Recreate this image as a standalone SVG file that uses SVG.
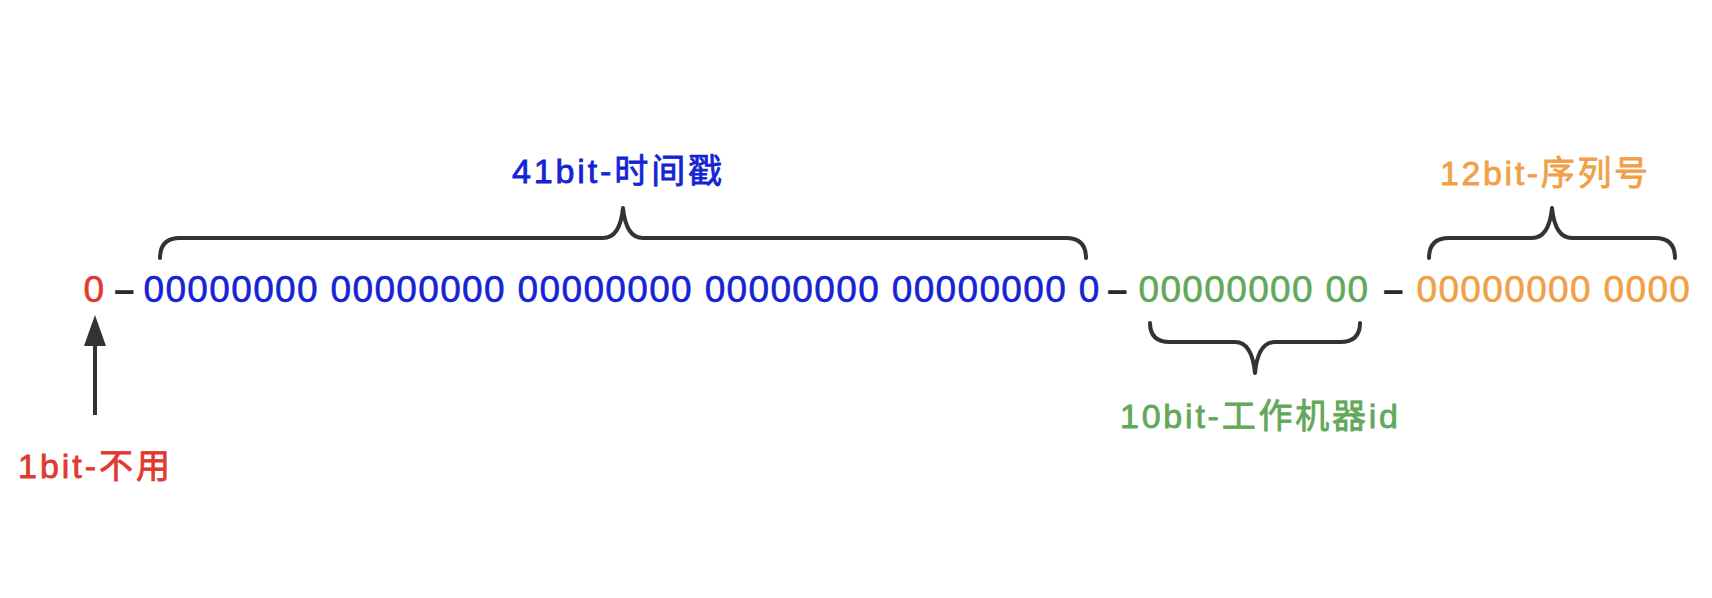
<svg xmlns="http://www.w3.org/2000/svg" width="1712" height="598" viewBox="0 0 1712 598">
<style>
.row{font-family:"Liberation Sans","Noto Sans CJK SC",sans-serif;font-size:37px;letter-spacing:1.35px;stroke-width:0.6px}
.lbl{font-family:"Liberation Sans","Noto Sans CJK SC",sans-serif;font-size:34px;stroke-width:0.8px}
.dash{font-family:"Liberation Sans",sans-serif;font-size:37px;font-weight:bold;fill:#2b2b2b}
.brace{fill:none;stroke:#333333;stroke-width:4;stroke-linecap:round;stroke-linejoin:round}
.red{fill:#e2392f;stroke:#e2392f}
.blue{fill:#1424d4;stroke:#1424d4}
.green{fill:#62a85a;stroke:#62a85a}
.orange{fill:#f0a046;stroke:#f0a046}
</style>
<rect width="1712" height="598" fill="#ffffff"/>
<g id="sign-bit">
<text class="row red" x="83.5" y="302">0</text>
<text class="lbl red" x="94" y="478" text-anchor="middle" textLength="152" lengthAdjust="spacing">1bit-不用</text>
</g>
<g id="timestamp">
<text class="row blue" x="143.5" y="302">00000000 00000000 00000000 00000000 00000000 0</text>
<text class="lbl blue" x="617" y="183" text-anchor="middle" textLength="210" lengthAdjust="spacing">41bit-时间戳</text>
</g>
<g id="worker-id">
<text class="row green" x="1138.5" y="302">00000000 00</text>
<text class="lbl green" x="1259" y="428" text-anchor="middle" textLength="278" lengthAdjust="spacing">10bit-工作机器id</text>
</g>
<g id="sequence">
<text class="row orange" x="1416.5" y="302">00000000 0000</text>
<text class="lbl orange" x="1544" y="185" text-anchor="middle" textLength="208" lengthAdjust="spacing">12bit-序列号</text>
</g>
<g id="connectors">
<text class="dash" x="114" y="302">–</text>
<text class="dash" x="1107" y="302">–</text>
<text class="dash" x="1383" y="302">–</text>
<path class="brace" d="M160,258 Q160,238 180,238 L603,238 Q620,238 623,208 Q626,238 643,238 L1066,238 Q1086,238 1086,258"/>
<path class="brace" d="M1429,258 Q1429,238 1449,238 L1532,238 Q1549,238 1552,208 Q1555,238 1572,238 L1655,238 Q1675,238 1675,258"/>
<path class="brace" d="M1150,323 Q1150,342 1170,342 L1235,342 Q1252,342 1255,373 Q1258,342 1275,342 L1340,342 Q1360,342 1360,323"/>
<line x1="95" y1="415" x2="95" y2="340" stroke="#333333" stroke-width="4"/>
<polygon points="95,315 84,346 106,346" fill="#333333"/>
</g>
</svg>
